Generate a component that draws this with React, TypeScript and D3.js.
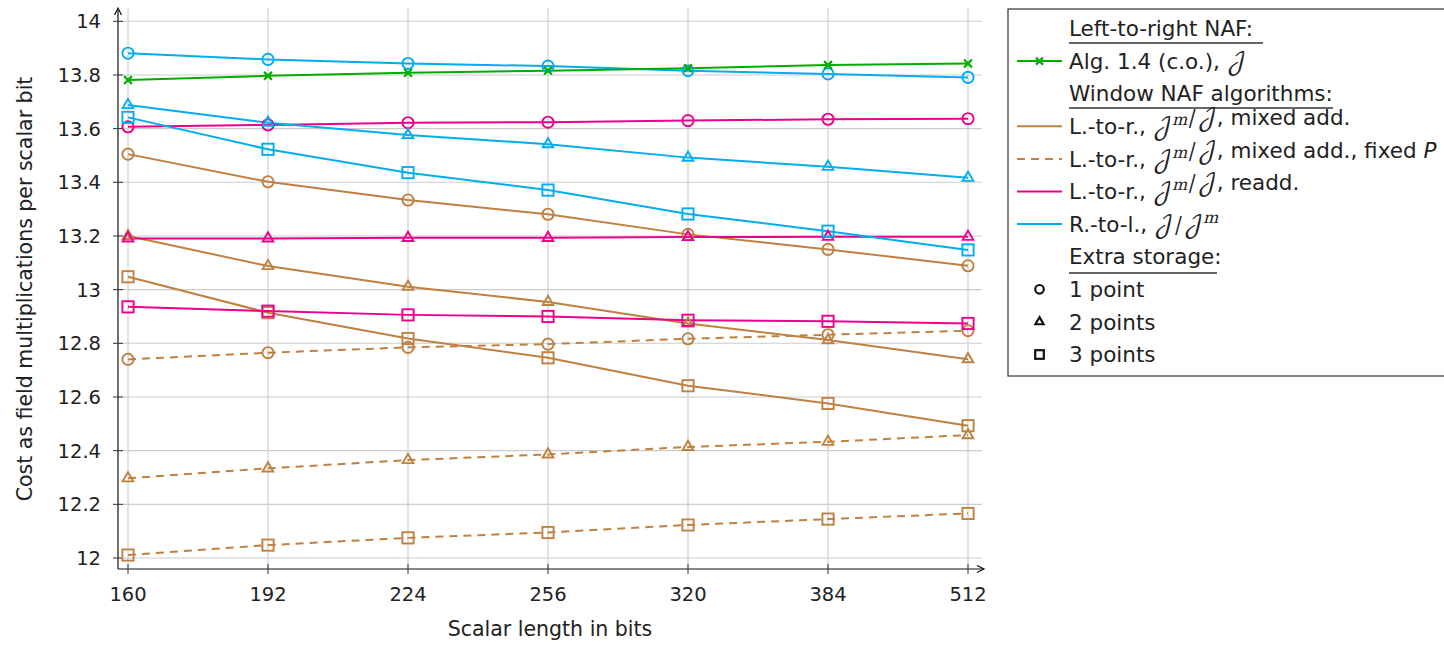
import React from "react";
import * as d3 from "d3";

const xLabels = ["160", "192", "224", "256", "320", "384", "512"];
const yTicks = [12, 12.2, 12.4, 12.6, 12.8, 13, 13.2, 13.4, 13.6, 13.8, 14];
const yTickLabels = ["12", "12.2", "12.4", "12.6", "12.8", "13", "13.2", "13.4", "13.6", "13.8", "14"];

const algCO = [13.781, 13.797, 13.808, 13.816, 13.825, 13.837, 13.843];
const rtl1 = [13.881, 13.858, 13.843, 13.833, 13.816, 13.804, 13.791];
const rtl2 = [13.688, 13.622, 13.576, 13.542, 13.492, 13.458, 13.417];
const rtl3 = [13.642, 13.523, 13.436, 13.371, 13.282, 13.218, 13.148];
const readd1 = [13.607, 13.614, 13.622, 13.624, 13.63, 13.635, 13.637];
const readd2 = [13.191, 13.191, 13.193, 13.193, 13.196, 13.197, 13.197];
const readd3 = [12.936, 12.92, 12.906, 12.9, 12.886, 12.882, 12.874];
const mixed1 = [13.505, 13.402, 13.334, 13.281, 13.206, 13.15, 13.089];
const mixed2 = [13.2, 13.088, 13.011, 12.954, 12.874, 12.812, 12.741];
const mixed3 = [13.048, 12.914, 12.818, 12.746, 12.642, 12.576, 12.493];
const fixed1 = [12.74, 12.765, 12.785, 12.797, 12.817, 12.832, 12.847];
const fixed2 = [12.297, 12.334, 12.365, 12.386, 12.414, 12.433, 12.458];
const fixed3 = [12.011, 12.048, 12.075, 12.095, 12.123, 12.145, 12.166];

const GREEN = "#00ad00";
const CYAN = "#00aeef";
const MAGENTA = "#ec008c";
const BROWN = "#bf8040";

type Series = { values: number[]; color: string; marker: string; dashed?: boolean };

const series: Series[] = [
  { values: fixed1, color: BROWN, marker: "circle", dashed: true },
  { values: fixed2, color: BROWN, marker: "triangle", dashed: true },
  { values: fixed3, color: BROWN, marker: "square", dashed: true },
  { values: mixed1, color: BROWN, marker: "circle" },
  { values: mixed2, color: BROWN, marker: "triangle" },
  { values: mixed3, color: BROWN, marker: "square" },
  { values: readd1, color: MAGENTA, marker: "circle" },
  { values: readd2, color: MAGENTA, marker: "triangle" },
  { values: readd3, color: MAGENTA, marker: "square" },
  { values: rtl1, color: CYAN, marker: "circle" },
  { values: rtl2, color: CYAN, marker: "triangle" },
  { values: rtl3, color: CYAN, marker: "square" },
  { values: algCO, color: GREEN, marker: "cross" },
];

const FONT = "'DejaVu Sans', sans-serif";
const MATH = "'DejaVu Math TeX Gyre', 'DejaVu Serif', serif";

function Marker({ type, x, y, color, size = 5.6, sw = 1.9 }: any) {
  if (type === "circle")
    return <circle cx={x} cy={y} r={size} fill="none" stroke={color} strokeWidth={sw} />;
  if (type === "square")
    return <rect x={x - size} y={y - size} width={size * 2} height={size * 2} fill="none" stroke={color} strokeWidth={sw} />;
  if (type === "triangle") {
    const r = size * 1.1;
    const p = `M${x},${y - r}L${x + r * 0.866},${y + r * 0.5}L${x - r * 0.866},${y + r * 0.5}Z`;
    return <path d={p} fill="none" stroke={color} strokeWidth={sw} strokeLinejoin="miter" />;
  }
  const s = size * 0.7;
  return (
    <path d={`M${x - s},${y - s}L${x + s},${y + s}M${x - s},${y + s}L${x + s},${y - s}`} stroke={color} strokeWidth={sw + 0.3} />
  );
}

function J() {
  return <tspan fontFamily={MATH} fontStyle="normal" fontSize="24">{"\u{1D4A5}"}</tspan>;
}
function Slash() {
  return <tspan fontFamily={MATH} fontSize="23">/</tspan>;
}
function Jm() {
  return (
    <>
      <J />
      <tspan fontFamily={MATH} fontStyle="italic" fontSize="16" dy="-9">m</tspan>
      <tspan dy="9">{""}</tspan>
    </>
  );
}

export default function App() {
  const W = 1444, H = 645;
  const x = d3.scalePoint<string>().domain(xLabels).range([128, 968]);
  const y = d3.scaleLinear().domain([12, 14]).range([558, 21.3]);
  const left = 118, right = 982, top = 8, bottom = 569;
  const line = d3
    .line<number>()
    .x((_, i) => x(xLabels[i]) as number)
    .y((d) => y(d));

  const lx0 = 1017, lx1 = 1062, tx = 1069, mx = 1039.5;
  const rowY = (i: number) => 28.5 + i * 32.6;
  const lfs = 21.5;

  return (
    <svg width={W} height={H} style={{ position: "absolute", left: 0, top: 0 }} fontFamily={FONT}>
      <rect width={W} height={H} fill="white" />
      {/* grid */}
      {xLabels.map((l) => (
        <line key={"vg" + l} x1={x(l)} x2={x(l)} y1={top} y2={bottom} stroke="#cccccc" strokeWidth={1.1} />
      ))}
      {yTicks.map((t) => (
        <line key={"hg" + t} x1={left} x2={right} y1={y(t)} y2={y(t)} stroke="#cccccc" strokeWidth={1.1} />
      ))}
      {/* axes */}
      <line x1={left} x2={left} y1={bottom} y2={top + 2} stroke="#111" strokeWidth={1.2} />
      <path d={`M${left - 3.5},${top + 7}L${left},${top}L${left + 3.5},${top + 7}`} fill="none" stroke="#111" strokeWidth={1.2} />
      <line x1={left} x2={right + 2} y1={bottom} y2={bottom} stroke="#111" strokeWidth={1.2} />
      <path d={`M${right - 5},${bottom - 3.5}L${right + 2},${bottom}L${right - 5},${bottom + 3.5}`} fill="none" stroke="#111" strokeWidth={1.2} />
      {yTicks.map((t, i) => (
        <g key={"yt" + t}>
          <line x1={left - 5} x2={left + 5} y1={y(t)} y2={y(t)} stroke="#333" strokeWidth={1} />
          <text x={101} y={y(t)} dy="0.36em" textAnchor="end" fontSize={19.5} fill="#222">
            {yTickLabels[i]}
          </text>
        </g>
      ))}
      {xLabels.map((l) => (
        <g key={"xt" + l}>
          <line x1={x(l)} x2={x(l)} y1={bottom - 5} y2={bottom + 5} stroke="#333" strokeWidth={1} />
          <text x={x(l)} y={594} dy="0.36em" textAnchor="middle" fontSize={19.5} fill="#222">
            {l}
          </text>
        </g>
      ))}
      <text x={550} y={629} dy="0.36em" textAnchor="middle" fontSize={20.5} fill="#222">
        Scalar length in bits
      </text>
      <text transform="translate(25,289) rotate(-90)" dy="0.36em" textAnchor="middle" fontSize={20.5} fill="#222">
        Cost as field multiplications per scalar bit
      </text>
      {/* series lines */}
      {series.map((s, k) => (
        <path
          key={"ln" + k}
          d={line(s.values) as string}
          fill="none"
          stroke={s.color}
          strokeWidth={2}
          strokeDasharray={s.dashed ? "8,6" : undefined}
        />
      ))}
      {series.map((s, k) =>
        s.values.map((v, i) => (
          <Marker key={"mk" + k + "-" + i} type={s.marker} x={x(xLabels[i]) as number} y={y(v)} color={s.color} />
        ))
      )}
      {/* legend */}
      <rect x={1008} y={9} width={450} height={367} fill="white" stroke="#333" strokeWidth={1.2} />
      <g fontSize={lfs} fill="#222">
        <text x={tx} y={rowY(0)} dy="0.36em">Left-to-right NAF:</text>
        <line x1={tx} x2={1263} y1={43} y2={43} stroke="#333" strokeWidth={1.3} />
        <line x1={lx0} x2={lx1} y1={rowY(1)} y2={rowY(1)} stroke={GREEN} strokeWidth={2} />
        <Marker type="cross" x={mx} y={rowY(1)} color={GREEN} size={5} />
        <text x={tx} y={rowY(1)} dy="0.36em">Alg. 1.4 (c.o.), <J /></text>
        <text x={tx} y={rowY(2)} dy="0.36em">Window NAF algorithms:</text>
        <line x1={tx} x2={1333} y1={108} y2={108} stroke="#333" strokeWidth={1.3} />
        <line x1={lx0} x2={lx1} y1={rowY(3)} y2={rowY(3)} stroke={BROWN} strokeWidth={2} />
        <text x={tx} y={rowY(3)} dy="0.36em">L.-to-r., <Jm /><Slash /><J />, mixed add.</text>
        <line x1={lx0} x2={lx1} y1={rowY(4)} y2={rowY(4)} stroke={BROWN} strokeWidth={2} strokeDasharray="8,6" />
        <text x={tx} y={rowY(4)} dy="0.36em">L.-to-r., <Jm /><Slash /><J />, mixed add., fixed <tspan fontStyle="italic">P</tspan></text>
        <line x1={lx0} x2={lx1} y1={rowY(5)} y2={rowY(5)} stroke={MAGENTA} strokeWidth={2} />
        <text x={tx} y={rowY(5)} dy="0.36em">L.-to-r., <Jm /><Slash /><J />, readd.</text>
        <line x1={lx0} x2={lx1} y1={rowY(6)} y2={rowY(6)} stroke={CYAN} strokeWidth={2} />
        <text x={tx} y={rowY(6)} dy="0.36em">R.-to-l., <J /><Slash /><Jm /></text>
        <text x={tx} y={rowY(7)} dy="0.36em">Extra storage:</text>
        <line x1={tx} x2={1217} y1={273} y2={273} stroke="#333" strokeWidth={1.3} />
        <Marker type="circle" x={mx} y={rowY(8)} color="#111" size={4.3} sw={2.2} />
        <text x={tx} y={rowY(8)} dy="0.36em">1 point</text>
        <Marker type="triangle" x={mx} y={rowY(9)} color="#111" size={4.3} sw={2.2} />
        <text x={tx} y={rowY(9)} dy="0.36em">2 points</text>
        <Marker type="square" x={mx} y={rowY(10)} color="#111" size={4.3} sw={2.2} />
        <text x={tx} y={rowY(10)} dy="0.36em">3 points</text>
      </g>
    </svg>
  );
}
